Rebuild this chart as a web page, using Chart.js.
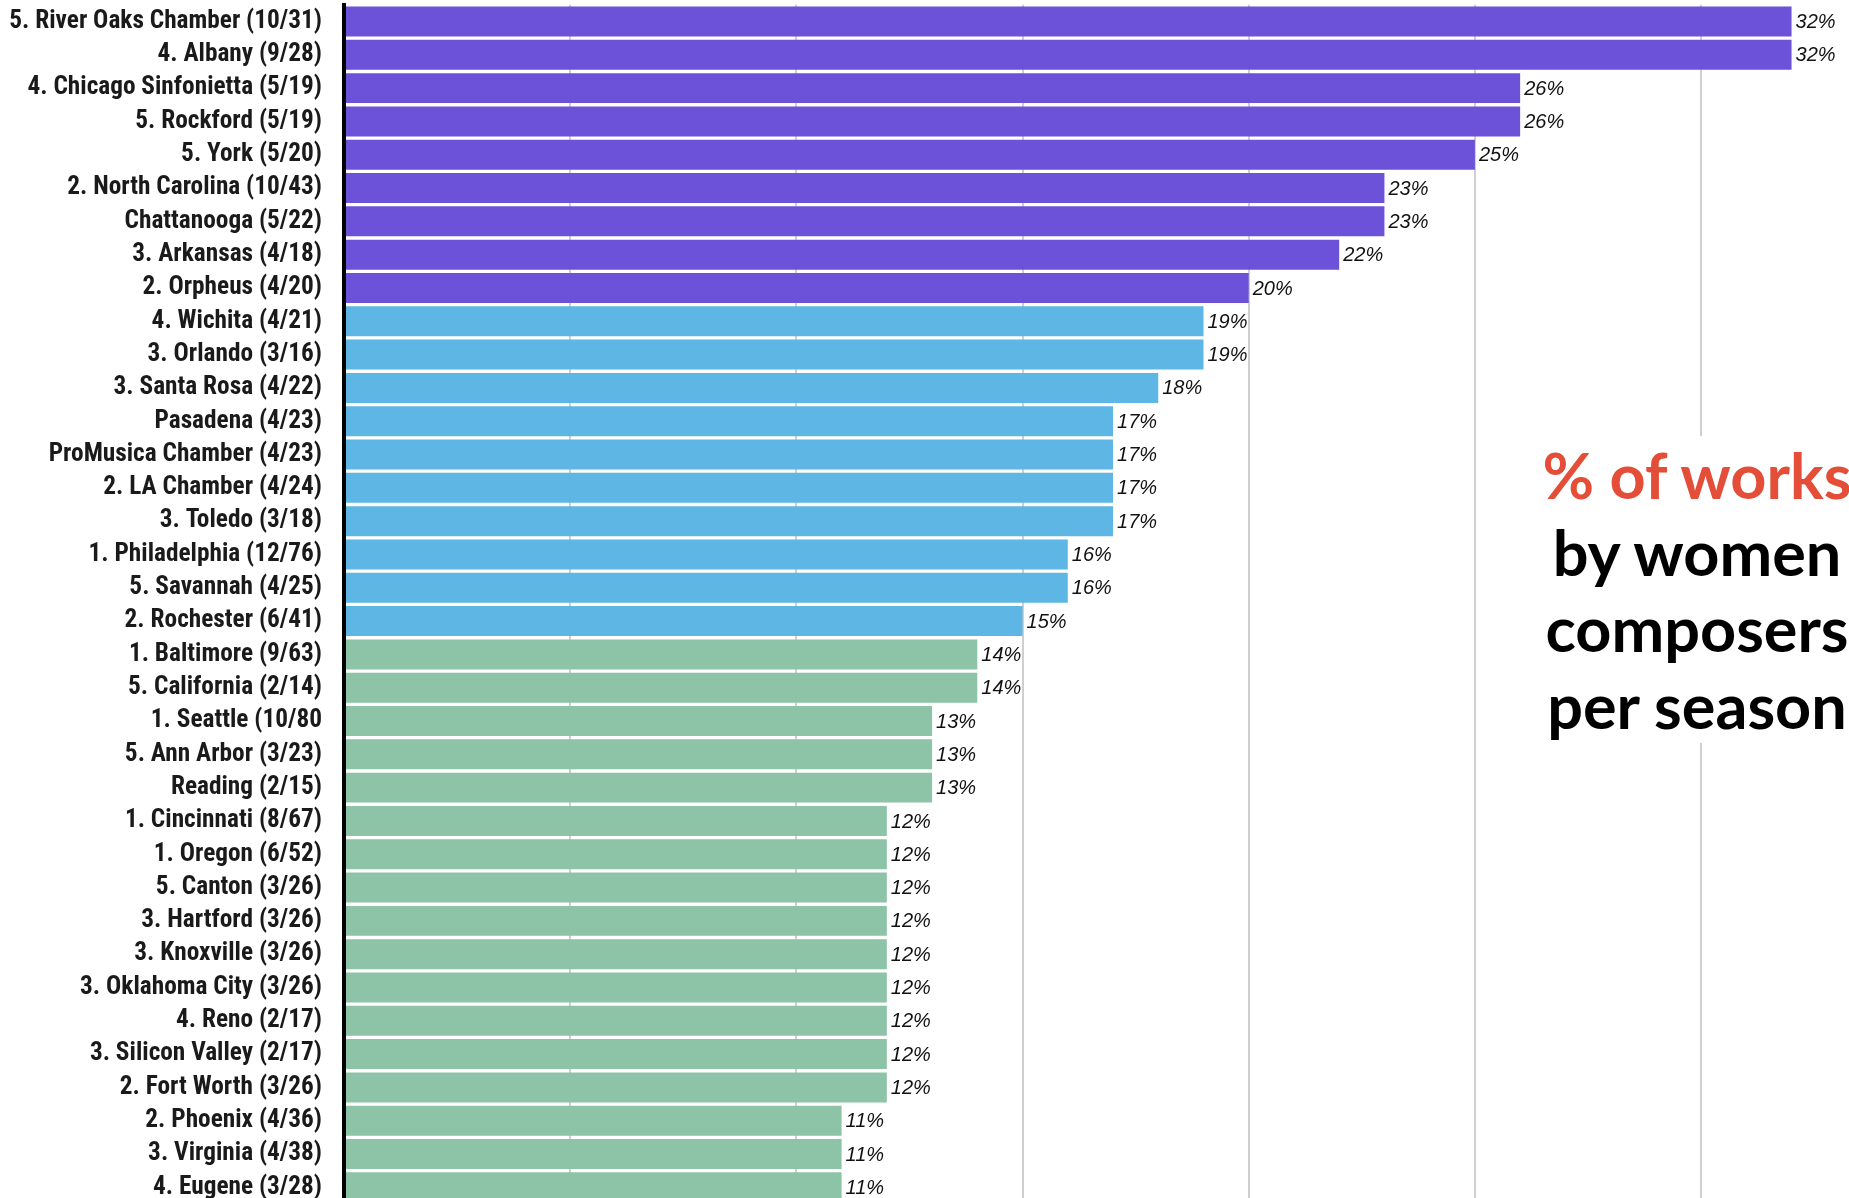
<!DOCTYPE html>
<html>
<head>
<meta charset="utf-8">
<script src="https://cdn.jsdelivr.net/npm/chart.js@4"></script>
<style>
  html, body { margin: 0; padding: 0; background: #fff; overflow: hidden; width: 1849px; height: 1198px; }
  #wrap { position: absolute; left: 0; top: 0; width: 1849px; height: 1204px; }
  #title {
    position: absolute; left: 1510px; top: 436px; width: 374px; height: 307px;
    background: #fff; text-align: center;
    font-family: Lato, "Open Sans", sans-serif; font-weight: 700; font-size: 63px;
    line-height: 76.7px; color: #000; padding-top: 1px; box-sizing: border-box; white-space: nowrap;
  }
  #title .red { color: #E44D38; }
</style>
</head>
<body>
<div id="wrap"><canvas id="c"></canvas></div>
<div id="title"><span class="red">% of works</span><br>by women<br>composers<br>per season</div>
<script>
const categories = [
  "5. River Oaks Chamber (10/31)", "4. Albany (9/28)", "4. Chicago Sinfonietta (5/19)",
  "5. Rockford (5/19)", "5. York (5/20)", "2. North Carolina (10/43)", "Chattanooga (5/22)",
  "3. Arkansas (4/18)", "2. Orpheus (4/20)", "4. Wichita (4/21)", "3. Orlando (3/16)",
  "3. Santa Rosa (4/22)", "Pasadena (4/23)", "ProMusica Chamber (4/23)", "2. LA Chamber (4/24)",
  "3. Toledo (3/18)", "1. Philadelphia (12/76)", "5. Savannah (4/25)", "2. Rochester (6/41)",
  "1. Baltimore (9/63)", "5. California (2/14)", "1. Seattle (10/80", "5. Ann Arbor (3/23)",
  "Reading (2/15)", "1. Cincinnati (8/67)", "1. Oregon (6/52)", "5. Canton (3/26)",
  "3. Hartford (3/26)", "3. Knoxville (3/26)", "3. Oklahoma City (3/26)", "4. Reno (2/17)",
  "3. Silicon Valley (2/17)", "2. Fort Worth (3/26)", "2. Phoenix (4/36)", "3. Virginia (4/38)",
  "4. Eugene (3/28)"
];
const percentWomen = [
  32, 32, 26, 26, 25, 23, 23, 22, 20,
  19, 19, 18, 17, 17, 17, 17, 16, 16, 15,
  14, 14, 13, 13, 13, 12, 12, 12, 12, 12, 12, 12, 12, 12, 11, 11, 11
];
const gridTicks = [5, 10, 15, 20, 25, 30];

const PURPLE = '#6B52D9', BLUE = '#5EB6E4', GREEN = '#8DC3A7';

const valueLabels = {
  id: 'valueLabels',
  afterDatasetsDraw(chart) {
    const ctx = chart.ctx;
    const meta = chart.getDatasetMeta(0);
    ctx.save();
    ctx.font = 'italic 20px "Liberation Sans", Arial, sans-serif';
    ctx.fillStyle = '#111';
    ctx.textAlign = 'left';
    ctx.textBaseline = 'middle';
    meta.data.forEach((bar, i) => {
      ctx.fillText(percentWomen[i] + '%', bar.x + 4, bar.y + 1);
    });
    ctx.restore();
  }
};

new Chart(document.getElementById('c'), {
  type: 'bar',
  data: {
    labels: categories,
    datasets: [{
      data: percentWomen,
      backgroundColor: (c) => {
        const v = c.raw;
        return v >= 20 ? PURPLE : (v >= 15 ? BLUE : GREEN);
      },
      borderWidth: 0,
      categoryPercentage: 1.0,
      barPercentage: 0.9
    }]
  },
  options: {
    indexAxis: 'y',
    responsive: true,
    maintainAspectRatio: false,
    animation: false,
    layout: { padding: { top: 4.85, right: 0, bottom: 0, left: 0 } },
    plugins: { legend: { display: false }, tooltip: { enabled: false } },
    scales: {
      x: {
        min: 0, max: 33.27,
        afterBuildTicks: (scale) => { scale.ticks = [0].concat(gridTicks).map(v => ({ value: v })); },
        ticks: { display: false },
        border: { display: false },
        grid: {
          drawTicks: false,
          lineWidth: 2,
          color: (c) => (c.tick && gridTicks.includes(c.tick.value)) ? '#CFCFCF' : 'rgba(0,0,0,0)'
        }
      },
      y: {
        afterFit: (scale) => {
          scale.width = 344;
          scale.paddingTop = 0;
          scale.paddingBottom = 0;
        },
        border: { display: true, color: '#000', width: 4, z: 1 },
        grid: { display: false, drawTicks: false },
        ticks: {
          padding: 22,
          color: '#1a1a1a',
          autoSkip: false,
          font: { family: '"Liberation Sans Narrow", "Roboto Condensed", "DejaVu Sans Condensed", sans-serif', weight: 'bold', size: 25.3 }
        }
      }
    }
  },
  plugins: [valueLabels]
});
</script>
</body>
</html>
